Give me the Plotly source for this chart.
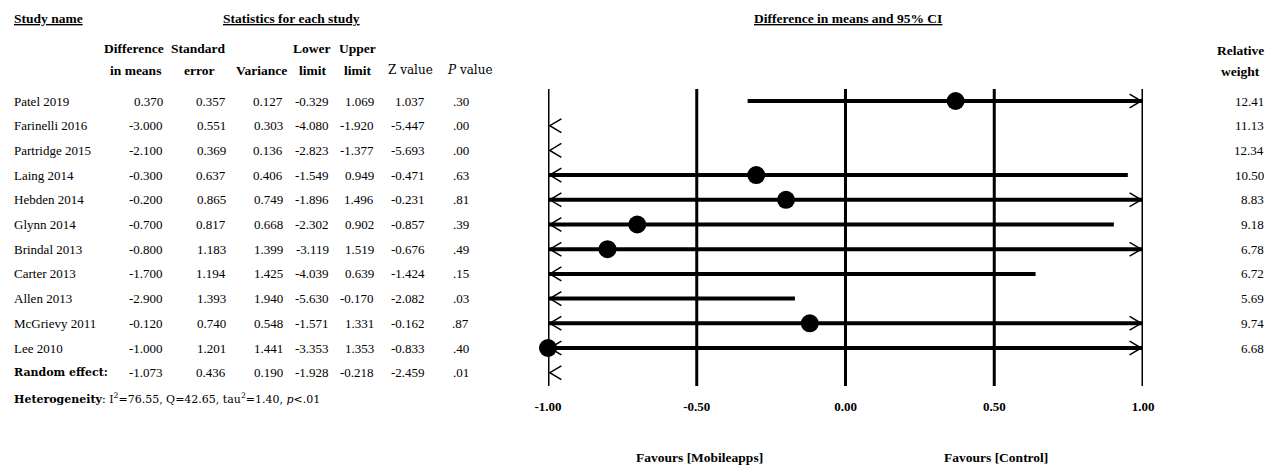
import plotly.graph_objects as go

# ---------------- data ----------------
studies = ["Patel 2019", "Farinelli 2016", "Partridge 2015", "Laing 2014", "Hebden 2014",
           "Glynn 2014", "Brindal 2013", "Carter 2013", "Allen 2013", "McGrievy 2011", "Lee 2010"]
diff = [0.370, -3.000, -2.100, -0.300, -0.200, -0.700, -0.800, -1.700, -2.900, -0.120, -1.000]
std_err = [0.357, 0.551, 0.369, 0.637, 0.865, 0.817, 1.183, 1.194, 1.393, 0.740, 1.201]
variance = [0.127, 0.303, 0.136, 0.406, 0.749, 0.668, 1.399, 1.425, 1.940, 0.548, 1.441]
lower = [-0.329, -4.080, -2.823, -1.549, -1.896, -2.302, -3.119, -4.039, -5.630, -1.571, -3.353]
upper = [1.069, -1.920, -1.377, 0.949, 1.496, 0.902, 1.519, 0.639, -0.170, 1.331, 1.353]
z_value = [1.037, -5.447, -5.693, -0.471, -0.231, -0.857, -0.676, -1.424, -2.082, -0.162, -0.833]
p_value = [".30", ".00", ".00", ".63", ".81", ".39", ".49", ".15", ".03", ".87", ".40"]
rel_weight = [12.41, 11.13, 12.34, 10.50, 8.83, 9.18, 6.78, 6.72, 5.69, 9.74, 6.68]

summary_label = "Random effect:"
summary_diff = -1.073
summary_se = 0.436
summary_var = 0.190
summary_lower = -1.928
summary_upper = -0.218
summary_z = -2.459
summary_p = ".01"
heterogeneity = "<b>Heterogeneity</b>: I<sup>2</sup>=76.55, Q=42.65, tau<sup>2</sup>=1.40, <i>p</i>&lt;.01"

tick_vals = [-1.0, -0.5, 0.0, 0.5, 1.0]
tick_text = ["-1.00", "-0.50", "0.00", "0.50", "1.00"]
x_min, x_max = -1.0, 1.0
favours_left = "Favours [Mobileapps]"
favours_right = "Favours [Control]"

# ---------------- layout constants ----------------
W, H = 1279, 468
ROW0_PX, ROW_STEP = 101, 24.7
SERIF = "Liberation Serif"
PAL = "DejaVu Serif"


def row_of(py):
    return (py - ROW0_PX) / ROW_STEP


n = len(studies)
fig = go.Figure()

# vertical reference lines at ticks
for t in tick_vals:
    fig.add_shape(type="line", xref="x", yref="y", x0=t, x1=t,
                  y0=row_of(89), y1=row_of(386), line=dict(color="black", width=3))

# CI lines
lx, ly = [], []
for i in range(n):
    lo = max(lower[i], x_min)
    hi = min(upper[i], x_max)
    if hi > lo:
        lx += [lo, hi, None]
        ly += [i, i, None]
fig.add_trace(go.Scatter(x=lx, y=ly, mode="lines", line=dict(color="black", width=4),
                         hoverinfo="skip", showlegend=False))

# chevrons where CI is clipped
cx, cy = [], []
dx, dy = 0.045, 0.28
all_lower = lower + [summary_lower]
all_upper = upper + [summary_upper]
for i in range(n + 1):
    if all_lower[i] < x_min:
        cx += [x_min + dx, x_min + 0.006, x_min + dx, None]
        cy += [i - dy, i, i + dy, None]
    if all_upper[i] > x_max:
        cx += [x_max - dx, x_max - 0.006, x_max - dx, None]
        cy += [i - dy, i, i + dy, None]
fig.add_trace(go.Scatter(x=cx, y=cy, mode="lines", line=dict(color="black", width=1.5),
                         hoverinfo="skip", showlegend=False))

# point estimates inside range
px_, py_ = [], []
for i in range(n):
    if x_min <= diff[i] <= x_max:
        px_.append(diff[i])
        py_.append(i)
fig.add_trace(go.Scatter(x=px_, y=py_, mode="markers", cliponaxis=False,
                         marker=dict(color="black", size=18, symbol="circle"),
                         hoverinfo="skip", showlegend=False))

annotations = []


def ann(text, px, row, anchor="center", size=13, family=SERIF, color="black"):
    annotations.append(dict(text=text, x=px / W, xref="paper", y=row, yref="y",
                            xanchor=anchor, yanchor="middle", showarrow=False,
                            font=dict(family=family, size=size, color=color)))


# headers
ann("<b><u>Study name</u></b>", 12, row_of(18), "left", 13.5)
ann("<b><u>Statistics for each study</u></b>", 291, row_of(18), "center", 13.5)
ann("<b><u>Difference in means and 95% CI</u></b>", 848, row_of(18), "center", 13.5)
ann("<b>Difference</b>", 134, row_of(48), "center", 13.5)
ann("<b>in means</b>", 135, row_of(70), "center", 13.5)
ann("<b>Standard</b>", 198, row_of(48), "center", 13.5)
ann("<b>error</b>", 199, row_of(70), "center", 13.5)
ann("<b>Variance</b>", 261, row_of(70), "center", 13.5)
ann("<b>Lower</b>", 312, row_of(48), "center", 13.5)
ann("<b>limit</b>", 312, row_of(70), "center", 13.5)
ann("<b>Upper</b>", 357, row_of(48), "center", 13.5)
ann("<b>limit</b>", 357, row_of(70), "center", 13.5)
ann("Z value", 410, row_of(70), "center", 12, PAL)
ann("<i>P</i> value", 470, row_of(70), "center", 12, PAL)
ann("<b>Relative</b>", 1240, row_of(50), "center", 13.5)
ann("<b>weight</b>", 1240, row_of(71), "center", 13.5)

# rows
col_right = [165, 228, 285, 331, 376, 427, 471]
for i in range(n):
    ann(studies[i], 12, i, "left")
    vals = [f"{diff[i]:.3f}", f"{std_err[i]:.3f}", f"{variance[i]:.3f}", f"{lower[i]:.3f}",
            f"{upper[i]:.3f}", f"{z_value[i]:.3f}", p_value[i]]
    for v, r in zip(vals, col_right):
        ann(v, r, i, "right")
    ann(f"{rel_weight[i]:.2f}", 1266, i, "right")

# summary row
ann(f"<b>{summary_label}</b>", 12, n, "left", 11, PAL)
svals = [f"{summary_diff:.3f}", f"{summary_se:.3f}", f"{summary_var:.3f}", f"{summary_lower:.3f}",
         f"{summary_upper:.3f}", f"{summary_z:.3f}", summary_p]
for v, r in zip(svals, col_right):
    ann(v, r, n, "right")
ann(heterogeneity, 12, row_of(398), "left", 11, PAL)

# favours labels
ann(f"<b>{favours_left}</b>", 699, row_of(457), "center", 13.5)
ann(f"<b>{favours_right}</b>", 996, row_of(457), "center", 13.5)

fig.update_layout(
    template="none",
    width=W, height=H,
    margin=dict(l=0, r=0, t=0, b=0, pad=0),
    paper_bgcolor="white", plot_bgcolor="white",
    annotations=annotations,
    xaxis=dict(domain=[548 / W, 1143 / W], range=[x_min, x_max],
               tickvals=tick_vals, ticktext=tick_text,
               tickfont=dict(family=SERIF, size=13, color="black", weight="bold"),
               showgrid=False, zeroline=False, showline=False, ticks="",
               automargin=False, anchor="free", position=1 - 397 / H),
    yaxis=dict(domain=[0, 1], range=[row_of(H), row_of(0)], visible=False,
               showgrid=False, zeroline=False, automargin=False),
)

fig.write_html("out.html", config={"displayModeBar": False},
               post_script="document.body.style.margin='0px';document.body.style.overflow='hidden';")
